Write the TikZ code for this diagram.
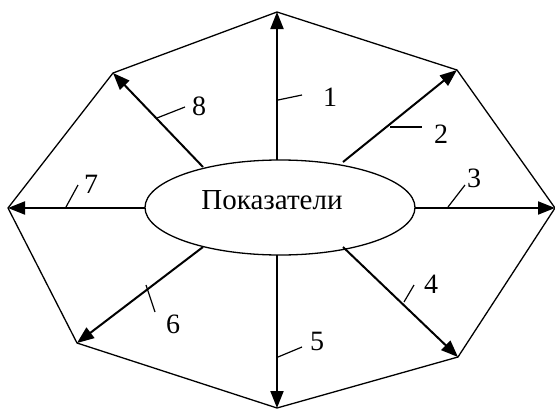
\documentclass[tikz,border=0pt]{standalone}
\usepackage{fontspec}
\setmainfont{Liberation Serif}
\usetikzlibrary{arrows.meta,shapes.geometric}
\begin{document}
\begin{tikzpicture}[x=1pt,y=-1pt,
  ray/.style={line width=2pt,-{Triangle[length=17pt,width=13pt]}},
  edge/.style={line width=1.3pt,line join=miter},
  tick/.style={line width=1.2pt},
  num/.style={font=\fontsize{28}{30}\selectfont,inner sep=0pt},
  center/.style={ellipse,draw,line width=1.3pt,minimum width=270pt,minimum height=95pt,inner sep=0pt}]
\useasboundingbox (0,0) rectangle (555,410);
% octagon vertices
\coordinate (v1) at (277,12);
\coordinate (v2) at (457,70);
\coordinate (v3) at (555,208);
\coordinate (v4) at (458,357);
\coordinate (v5) at (277,408);
\coordinate (v6) at (77,343);
\coordinate (v7) at (8,208);
\coordinate (v8) at (113,73);
\draw[edge] (v1) -- (v2) -- (v3) -- (v4) -- (v5) -- (v6) -- (v7) -- (v8) -- cycle;
% centre
\node[center] (E) at (280,207.5) {};
\node[font=\fontsize{29}{31}\selectfont,inner sep=0pt,anchor=base] (T) at (272,209) {Показатели};
% ray starts
\coordinate (s1) at (277,160);
\coordinate (s2) at (343,162);
\coordinate (s3) at (415,208);
\coordinate (s4) at (343,247);
\coordinate (s5) at (277,255);
\coordinate (s6) at (203,247);
\coordinate (s7) at (145,208);
\coordinate (s8) at (203,167);
\foreach \i in {1,...,8} {\draw[ray] (s\i) -- (v\i);}
% ticks
\coordinate (a1) at (278,100); \coordinate (b1) at (302,95);
\coordinate (a2) at (390,127); \coordinate (b2) at (422,127);
\coordinate (a3) at (448,207); \coordinate (b3) at (465,185);
\coordinate (a4) at (404,302); \coordinate (b4) at (414,285);
\coordinate (a5) at (278,357); \coordinate (b5) at (302,347);
\coordinate (a6) at (146,285); \coordinate (b6) at (155,312);
\coordinate (a7) at (66,207);  \coordinate (b7) at (78,185);
\coordinate (a8) at (157,118); \coordinate (b8) at (185,107);
\foreach \i in {1,...,8} {\draw[tick] (a\i) -- (b\i);}
% labels
\node[num] (n1) at (330,97) {1};
\node[num] (n2) at (441,134) {2};
\node[num] (n3) at (474,178) {3};
\node[num] (n4) at (431,284) {4};
\node[num] (n5) at (317,341) {5};
\node[num] (n6) at (173,324) {6};
\node[num] (n7) at (91,184) {7};
\node[num] (n8) at (199,106) {8};
\end{tikzpicture}
\end{document}
